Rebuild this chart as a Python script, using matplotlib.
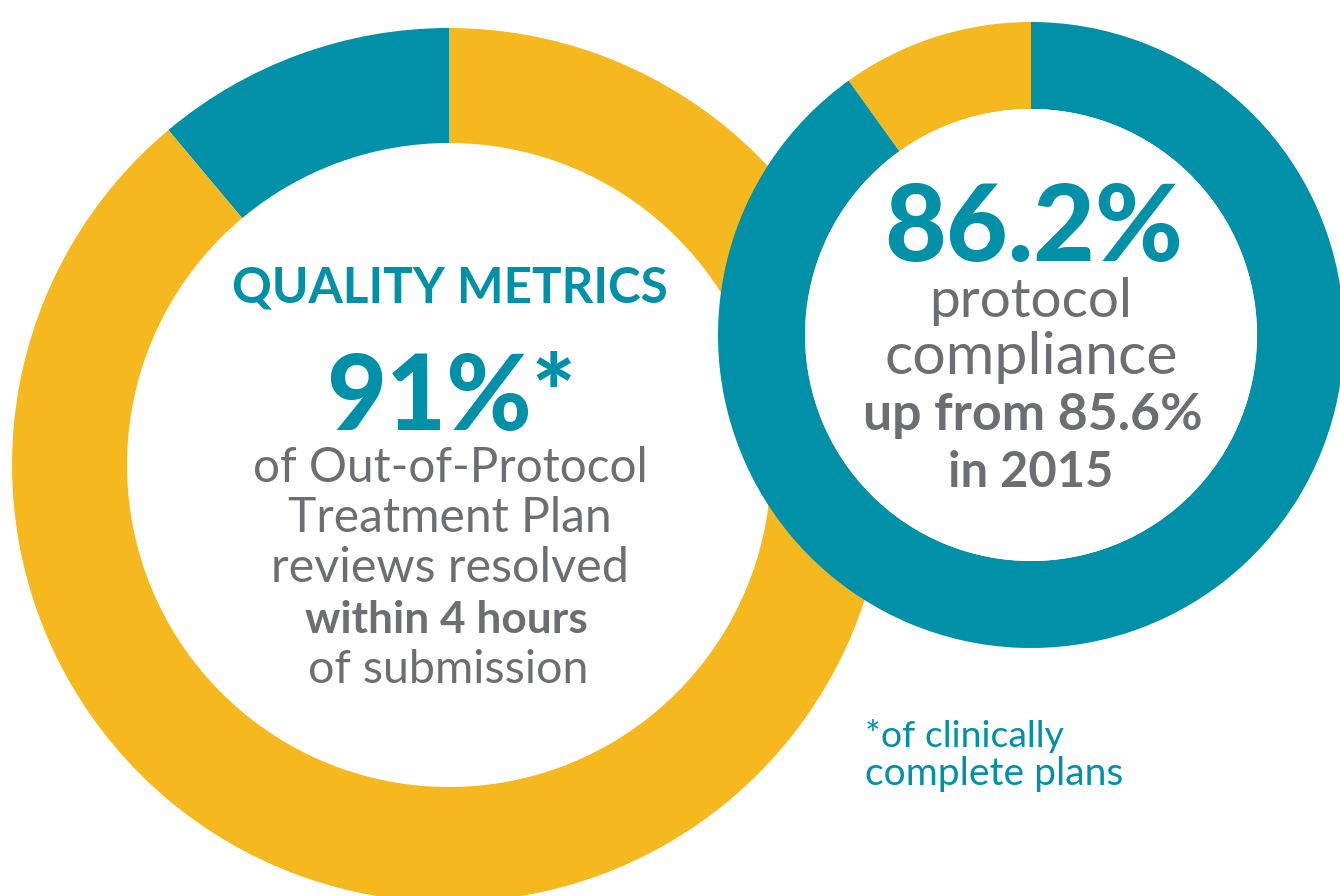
import matplotlib
matplotlib.use("Agg")
import matplotlib.pyplot as plt
from matplotlib.patches import Circle

# ---- data ----
left_labels = ["Resolved later", "Resolved within 4 hours"]
left_values = [11.1, 88.9]
right_labels = ["Non-compliant", "Protocol compliance"]
right_values = [9.9, 90.1]

TEAL = "#0090A8"
YELLOW = "#F5B91F"
GRAY = "#6D6E71"

W, H = 1340, 896
fig = plt.figure(figsize=(W / 100, H / 100), dpi=100)
ax = fig.add_axes([0, 0, 1, 1])

def py(y):
    return H - y

# left donut
ax.pie(left_values, colors=[TEAL, YELLOW], startangle=90, counterclock=True,
       radius=437, center=(449, py(465)),
       wedgeprops=dict(width=437 - 322, linewidth=0))
# right donut
ax.pie(right_values, colors=[YELLOW, TEAL], startangle=90, counterclock=True,
       radius=313, center=(1031, py(335)),
       wedgeprops=dict(width=313 - 226, linewidth=0))
ax.add_patch(Circle((1031, py(335)), 226, facecolor="white", edgecolor="none", zorder=1))

ax.set_xlim(0, W)
ax.set_ylim(0, H)
ax.axis("off")

FONT = "Lato"
renderer = fig.canvas.get_renderer()

def fit_text(x, y, s, width, color, weight="normal", ha="center", size0=30):
    t = ax.text(x, py(y), s, ha=ha, va="baseline", color=color,
                fontsize=size0, fontweight=weight, family=FONT, zorder=5)
    bb = t.get_window_extent(renderer=renderer)
    t.set_fontsize(size0 * width / bb.width)
    return t

# left texts
fit_text(450, 302, "QUALITY METRICS", 436, TEAL, "bold")
fit_text(451, 430, "91%*", 250, TEAL, "black")
fit_text(450, 482, "of Out-of-Protocol", 394, GRAY, "normal")
fit_text(450, 532, "Treatment Plan", 324, GRAY, "normal")
fit_text(450, 582, "reviews resolved", 358, GRAY, "normal")
fit_text(446, 633, "within 4 hours", 282, GRAY, "bold")
fit_text(448, 683, "of submission", 281, GRAY, "normal")

# right texts
fit_text(1034, 261, "86.2%", 298, TEAL, "black")
fit_text(1031, 317, "protocol", 203, GRAY, "normal")
fit_text(1031, 374, "compliance", 293, GRAY, "normal")
fit_text(1033, 430, "up from 85.6%", 340, GRAY, "bold")
fit_text(1031, 487, "in 2015", 165, GRAY, "bold")

# footnote
fit_text(865, 747, "*of clinically", 198, TEAL, "normal", ha="left")
fit_text(865, 785, "complete plans", 258, TEAL, "normal", ha="left")

fig.savefig("out.png", dpi=100)
